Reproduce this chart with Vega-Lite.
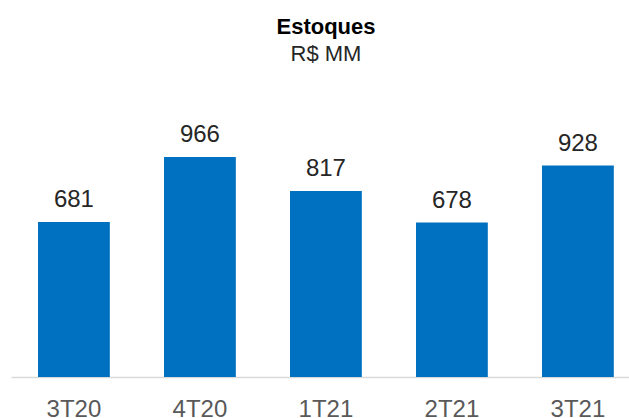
{
  "$schema": "https://vega.github.io/schema/vega-lite/v6.json",
  "autosize": {"type": "none"},
  "padding": {"left": 11, "top": 90, "right": 0, "bottom": 41},
  "width": 618,
  "height": 287,
  "background": "white",
  "title": {
    "text": "Estoques",
    "subtitle": "R$ MM",
    "anchor": "middle",
    "dx": 6,
    "offset": 24,
    "font": "Liberation Sans",
    "fontSize": 22,
    "fontWeight": "bold",
    "color": "#000000",
    "subtitleFont": "Liberation Sans",
    "subtitleFontSize": 22,
    "subtitleColor": "#262626",
    "subtitlePadding": 5
  },
  "data": {
    "values": [
      {"periodo": "3T20", "valor": 681},
      {"periodo": "4T20", "valor": 966},
      {"periodo": "1T21", "valor": 817},
      {"periodo": "2T21", "valor": 678},
      {"periodo": "3T21", "valor": 928}
    ]
  },
  "encoding": {
    "x": {
      "field": "periodo",
      "type": "nominal",
      "sort": null,
      "scale": {"paddingInner": 0.43, "paddingOuter": 0.1675, "align": 0.64, "round": false},
      "axis": {
        "title": null,
        "ticks": false,
        "labelAngle": 0,
        "labelFont": "Liberation Sans",
        "labelFontSize": 24,
        "labelColor": "#595959",
        "labelPadding": 20,
        "domainColor": "#D9D9D9",
        "domainWidth": 1.5
      }
    },
    "y": {
      "field": "valor",
      "type": "quantitative",
      "scale": {"domain": [0, 1260]},
      "axis": null
    }
  },
  "layer": [
    {"mark": {"type": "bar", "color": "#0070C0"}},
    {
      "mark": {
        "type": "text",
        "baseline": "alphabetic",
        "dy": -15,
        "font": "Liberation Sans",
        "fontSize": 24,
        "color": "#262626"
      },
      "encoding": {"text": {"field": "valor", "type": "quantitative"}}
    }
  ],
  "config": {"view": {"stroke": null}}
}
